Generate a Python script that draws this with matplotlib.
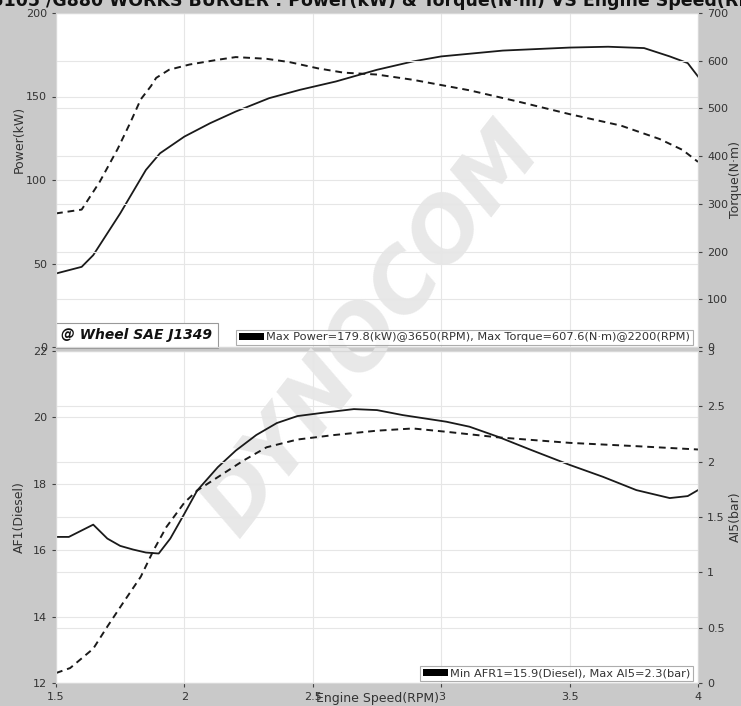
import matplotlib
matplotlib.use("Agg")
import matplotlib.pyplot as plt
from matplotlib.patches import Patch, Rectangle

# engine speed in x1000 rpm
rpm_pw = [1.5, 1.6, 1.645, 1.75, 1.85, 1.905, 2.0, 2.1, 2.2, 2.33, 2.45, 2.59,
          2.75, 2.89, 3.0, 3.24, 3.5, 3.65, 3.79, 3.89, 3.96, 4.0]
power = [44, 48, 55, 80, 106, 116, 126, 134, 141, 149, 154, 159,
         166, 171, 174, 177.5, 179.3, 179.8, 179, 174, 170, 162]

rpm_tq = [1.5, 1.6, 1.67, 1.74, 1.79, 1.83, 1.87, 1.89, 1.94, 2.02, 2.13, 2.2,
          2.32, 2.41, 2.52, 2.62, 2.75, 2.89, 3.11, 3.31, 3.5, 3.7, 3.85, 3.94, 4.0]
torque = [280, 288, 346, 415, 471, 519, 547, 564, 581, 592, 602, 607.6,
          604, 597, 584, 575, 571, 560, 538, 513, 488, 464, 436, 413, 388]

rpm_afr = [1.5, 1.55, 1.645, 1.7, 1.75, 1.8, 1.85, 1.9, 1.945, 2.0, 2.05, 2.13,
           2.2, 2.28, 2.36, 2.44, 2.54, 2.66, 2.75, 2.85, 3.02, 3.11, 3.22,
           3.35, 3.5, 3.63, 3.76, 3.89, 3.96, 4.0]
afr = [16.4, 16.4, 16.77, 16.35, 16.13, 16.02, 15.93, 15.9, 16.35, 17.1, 17.8, 18.5,
       19.0, 19.47, 19.83, 20.04, 20.14, 20.25, 20.22, 20.07, 19.87, 19.72, 19.42,
       19.02, 18.57, 18.21, 17.81, 17.57, 17.63, 17.81]

rpm_ai5 = [1.5, 1.555, 1.645, 1.7, 1.76, 1.83, 1.88, 1.93, 2.0, 2.05, 2.13, 2.23,
           2.32, 2.44, 2.58, 2.75, 2.89, 3.02, 3.22, 3.5, 3.76, 4.0]
ai5 = [0.09, 0.135, 0.31, 0.51, 0.72, 0.96, 1.2, 1.41, 1.63, 1.74, 1.86, 2.01,
       2.13, 2.2, 2.24, 2.28, 2.3, 2.27, 2.22, 2.17, 2.14, 2.11]

x_ticks = [1.5, 2, 2.5, 3, 3.5, 4]
x_ticklabels = ["1.5", "2", "2.5", "3", "3.5", "4"]

title = "Z5105 /G880 WORKS BURGER : Power(kW) & Torque(N\u00b7m) VS Engine Speed(RPM)"
top_note = "@ Wheel SAE J1349"
top_legend = "Max Power=179.8(kW)@3650(RPM), Max Torque=607.6(N\u00b7m)@2200(RPM)"
bot_legend = "Min AFR1=15.9(Diesel), Max AI5=2.3(bar)"

BG = "#c9c9c9"
GRID = "#e6e6e6"
TXT = "#333333"
LINE = "#1a1a1a"

W, H = 741, 706
fig = plt.figure(figsize=(W / 100, H / 100), dpi=100)
fig.patch.set_facecolor(BG)


def box(l, t, r, b):
    return [l / W, 1 - b / H, (r - l) / W, (b - t) / H]


ax1 = fig.add_axes(box(56, 13, 698, 347))
ax3 = fig.add_axes(box(56, 351, 698, 683))
ax2 = ax1.twinx()
ax4 = ax3.twinx()

# white plot areas sit under the watermark, curves go on top
for a in (ax1, ax3):
    fig.add_artist(Rectangle(a.get_position().p0, a.get_position().width,
                             a.get_position().height, transform=fig.transFigure,
                             facecolor="white", edgecolor="none", zorder=-2))
fig.text(372 / W, 1 - 330 / H, "DYNOCOM", rotation=52, ha="center", va="center",
         fontsize=62, fontweight="bold", style="italic", color="#e8e8e8", zorder=-1)

for a in (ax1, ax2, ax3, ax4):
    a.set_facecolor("none")
    for s in a.spines.values():
        s.set_color("#d8d8d8")
    a.tick_params(direction="out", length=3, width=0.8, color="#444444",
                  labelsize=8, labelcolor=TXT)
    a.set_xlim(1.5, 4)
    a.set_xticks(x_ticks)

# top: power and torque
ax1.plot(rpm_pw, power, color=LINE, lw=1.3)
ax2.plot(rpm_tq, torque, color=LINE, lw=1.4, ls=(0, (3.5, 2.5)))
ax1.set_ylim(0, 200)
ax1.set_yticks([0, 50, 100, 150, 200])
ax2.set_ylim(0, 700)
ax2.set_yticks(range(0, 701, 100))
ax1.tick_params(axis="x", labelbottom=False, length=0)
ax2.tick_params(axis="x", labelbottom=False, length=0)
ax1.grid(True, color=GRID, lw=0.8)
ax2.grid(True, axis="y", color=GRID, lw=0.8)
ax1.set_ylabel("Power(kW)", fontsize=9, color=TXT)
ax1.yaxis.set_label_coords(-0.047, 0.62)
ax2.set_ylabel("Torque(N\u00b7m)", fontsize=9, color=TXT)
ax2.yaxis.set_label_coords(1.048, 0.5)

ax1.text(0.008, 0.014, top_note, transform=ax1.transAxes, fontsize=10,
         fontweight="bold", style="italic", color="#111111", va="bottom", ha="left",
         zorder=5,
         bbox=dict(boxstyle="square,pad=0.4", facecolor="white", edgecolor="#999999", lw=0.8))
leg1 = ax2.legend([Patch(facecolor="black")], [top_legend], loc="lower right",
                  bbox_to_anchor=(0.995, 0.0), fontsize=8.2, frameon=True, fancybox=False,
                  borderpad=0.25, borderaxespad=0.15, handlelength=2.2, handleheight=0.6,
                  handletextpad=0.2, labelcolor=TXT)
leg1.get_frame().set_edgecolor("#999999")
leg1.get_frame().set_linewidth(0.8)

# bottom: air/fuel ratio and boost
ax3.plot(rpm_afr, afr, color=LINE, lw=1.3)
ax4.plot(rpm_ai5, ai5, color=LINE, lw=1.4, ls=(0, (3.5, 2.5)))
ax3.set_ylim(12, 22)
ax3.set_yticks([12, 14, 16, 18, 20, 22])
ax4.set_ylim(0, 3)
ax4.set_yticks([0, 0.5, 1, 1.5, 2, 2.5, 3])
ax4.set_yticklabels(["0", "0.5", "1", "1.5", "2", "2.5", "3"])
ax3.set_xticklabels(x_ticklabels)
ax4.tick_params(axis="x", length=0)
ax3.grid(True, color=GRID, lw=0.8)
ax4.grid(True, axis="y", color=GRID, lw=0.8)
ax3.set_ylabel("AF1(Diesel)", fontsize=9, color=TXT)
ax3.yaxis.set_label_coords(-0.047, 0.5)
ax4.set_ylabel("AI5(bar)", fontsize=9, color=TXT)
ax4.yaxis.set_label_coords(1.048, 0.5)
ax3.set_xlabel("Engine Speed(RPM)", fontsize=9, color=TXT)
ax3.xaxis.set_label_coords(0.5, -0.027)

leg2 = ax4.legend([Patch(facecolor="black")], [bot_legend], loc="lower right",
                  bbox_to_anchor=(0.995, 0.0), fontsize=8.2, frameon=True, fancybox=False,
                  borderpad=0.25, borderaxespad=0.15, handlelength=2.2, handleheight=0.6,
                  handletextpad=0.2, labelcolor=TXT)
leg2.get_frame().set_edgecolor("#999999")
leg2.get_frame().set_linewidth(0.8)

fig.text(0.51, 1 - 0.5 / H, title, ha="center", va="center", fontsize=12.5,
         fontweight="bold", color="#111111")

fig.savefig("out.png", dpi=100, facecolor=BG)
